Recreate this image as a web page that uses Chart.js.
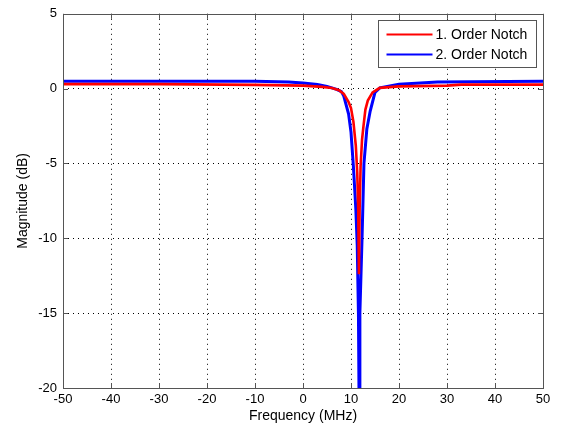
<!DOCTYPE html>
<html>
<head>
<meta charset="utf-8">
<script src="https://cdn.jsdelivr.net/npm/chart.js@4/dist/chart.umd.min.js"></script>
<style>
  html, body { margin: 0; padding: 0; background: #fff; }
  #notch-chart { display: block; }
</style>
</head>
<body>
<canvas id="notch-chart" width="565" height="435"></canvas>
<script>
'use strict';

// Values (frequency in MHz, magnitude in dB)
const seriesNames = ['1. Order Notch', '2. Order Notch'];
const seriesColors = ['#ff0000', '#0000ff'];

const freqOrder1 = [-50, -30, -10, 0, 4, 6, 7.5, 8.5, 9.5, 10, 10.5, 11, 11.3, 11.5, 11.65, 11.8, 12, 12.3, 12.6, 13, 13.5, 14.5, 16, 20, 30, 33, 50];
const magOrder1 = [0.3, 0.3, 0.25, 0.2, 0.12, 0.04, -0.1, -0.35, -0.9, -1.3, -2.2, -3.8, -5.6, -8, -12.4, -8, -5.2, -3.4, -2.5, -1.4, -0.8, -0.25, 0.05, 0.15, 0.2, 0.27, 0.27];

const freqOrder2 = [-50, -20, -10, -3, 0, 3, 5, 7, 8, 8.5, 9, 9.5, 10, 10.5, 11, 11.3, 11.55, 11.7, 11.85, 12.3, 12.7, 13.3, 14, 15, 16, 20, 28, 50];
const magOrder2 = [0.5, 0.5, 0.5, 0.45, 0.38, 0.28, 0.15, -0.05, -0.2, -0.5, -1.1, -1.7, -2.9, -5.2, -8, -10.5, -15, -22, -15, -10, -5, -2.7, -1.5, -0.25, 0.05, 0.3, 0.45, 0.5];

const xTicks = [-50, -40, -30, -20, -10, 0, 10, 20, 30, 40, 50];
const yTicks = [5, 0, -5, -10, -15, -20];

const axisColor = '#555555';
const fontFamily = '"Liberation Sans", Arial, Helvetica, sans-serif';

function toPoints(xs, ys) {
    return xs.map((x, i) => ({ x: x, y: ys[i] }));
}

// grid dots everywhere except on the box edges
function gridColor(min, max) {
    return ctx => (ctx.tick && (ctx.tick.value === min || ctx.tick.value === max)) ? 'rgba(0,0,0,0)' : '#000000';
}

// MATLAB style box with inward ticks
const boxPlugin = {
    id: 'boxPlugin',
    afterDatasetsDraw(chart) {
        const { ctx, chartArea: a, scales } = chart;
        const tickLen = 5;
        ctx.save();
        ctx.strokeStyle = axisColor;
        ctx.lineWidth = 1;
        ctx.beginPath();
        xTicks.forEach(v => {
            const px = Math.round(scales.x.getPixelForValue(v)) + 0.5;
            ctx.moveTo(px, a.bottom);
            ctx.lineTo(px, a.bottom - tickLen);
            ctx.moveTo(px, a.top);
            ctx.lineTo(px, a.top + tickLen);
        });
        yTicks.forEach(v => {
            const py = Math.round(scales.y.getPixelForValue(v)) + 0.5;
            ctx.moveTo(a.left, py);
            ctx.lineTo(a.left + tickLen, py);
            ctx.moveTo(a.right, py);
            ctx.lineTo(a.right - tickLen, py);
        });
        ctx.stroke();
        ctx.strokeRect(Math.round(a.left) + 0.5, Math.round(a.top) + 0.5,
            Math.round(a.right - a.left), Math.round(a.bottom - a.top));
        ctx.restore();
    },
    afterDraw(chart) {
        // legend box in the upper right corner of the axes
        const { ctx, chartArea: a } = chart;
        const boxW = 158, boxH = 47, rowH = 20;
        const bx = Math.round(a.right - 7 - boxW) + 0.5;
        const by = Math.round(a.top + 6) + 0.5;
        ctx.save();
        ctx.fillStyle = '#ffffff';
        ctx.fillRect(bx, by, boxW, boxH);
        ctx.strokeStyle = axisColor;
        ctx.lineWidth = 1;
        ctx.strokeRect(bx, by, boxW, boxH);
        ctx.font = '14px ' + fontFamily;
        ctx.textBaseline = 'middle';
        ctx.fillStyle = '#000000';
        chart.data.datasets.forEach((ds, i) => {
            const y = by + 14 + i * rowH;
            ctx.strokeStyle = ds.borderColor;
            ctx.lineWidth = 2;
            ctx.beginPath();
            ctx.moveTo(bx + 8, y);
            ctx.lineTo(bx + 54, y);
            ctx.stroke();
            ctx.fillText(ds.label, bx + 57, y + 1);
        });
        ctx.restore();
    }
};

const chartCtx = document.getElementById('notch-chart').getContext('2d');
const notchChart = new Chart(chartCtx, {
    type: 'line',
    data: {
        datasets: [
            {
                label: seriesNames[0],
                data: toPoints(freqOrder1, magOrder1),
                borderColor: seriesColors[0],
                backgroundColor: seriesColors[0],
                borderWidth: 2.6,
                pointRadius: 0,
                tension: 0,
                clip: 0
            },
            {
                label: seriesNames[1],
                data: toPoints(freqOrder2, magOrder2),
                borderColor: seriesColors[1],
                backgroundColor: seriesColors[1],
                borderWidth: 3,
                pointRadius: 0,
                tension: 0,
                clip: 0
            }
        ]
    },
    options: {
        responsive: false,
        devicePixelRatio: 1,
        animation: false,
        layout: { padding: { top: 11, right: 22, left: 0, bottom: 0 } },
        plugins: {
            legend: { display: false },
            tooltip: { enabled: false }
        },
        scales: {
            x: {
                type: 'linear',
                min: -50,
                max: 50,
                afterFit: scale => { scale.height = 47; },
                afterBuildTicks: scale => { scale.ticks = xTicks.map(v => ({ value: v })); },
                ticks: {
                    color: '#000000',
                    font: { family: fontFamily, size: 13 },
                    padding: 4,
                    maxRotation: 0
                },
                grid: { color: gridColor(-50, 50), lineWidth: 1, drawTicks: false },
                border: { display: false, dash: [1, 4] },
                title: {
                    display: true,
                    text: 'Frequency (MHz)',
                    color: '#000000',
                    font: { family: fontFamily, size: 14 },
                    padding: { top: 0, bottom: 10 }
                }
            },
            y: {
                type: 'linear',
                min: -20,
                max: 5,
                afterFit: scale => { scale.width = 63; },
                afterBuildTicks: scale => { scale.ticks = yTicks.map(v => ({ value: v })); },
                ticks: {
                    color: '#000000',
                    font: { family: fontFamily, size: 13 },
                    padding: 6
                },
                grid: { color: gridColor(-20, 5), lineWidth: 1, drawTicks: false },
                border: { display: false, dash: [1, 4] },
                title: {
                    display: true,
                    text: 'Magnitude (dB)',
                    color: '#000000',
                    font: { family: fontFamily, size: 14 },
                    padding: { top: 15, bottom: 0 }
                }
            }
        }
    },
    plugins: [boxPlugin]
});
</script>
</body>
</html>
